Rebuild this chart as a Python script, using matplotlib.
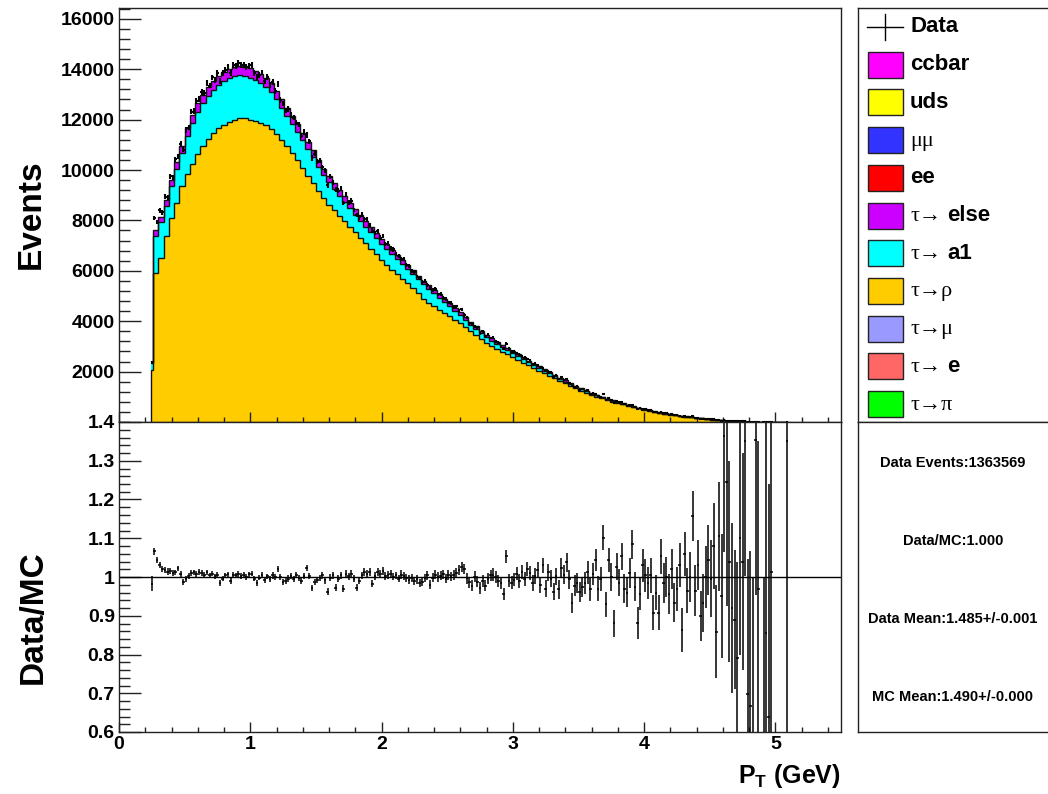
import numpy as np
import matplotlib
matplotlib.use('Agg')
import matplotlib.pyplot as plt
from matplotlib.patches import Rectangle
from matplotlib.ticker import MultipleLocator, FixedLocator, FuncFormatter

plt.rcParams['font.family'] = ['Liberation Sans', 'DejaVu Sans']
plt.rcParams['font.weight'] = 'bold'
plt.rcParams['mathtext.fontset'] = 'custom'
plt.rcParams['mathtext.rm'] = 'Liberation Sans:bold'
plt.rcParams['mathtext.bf'] = 'Liberation Sans:bold'

# --- stack, bins: first [0.24,0.26], then 0.04 wide up to 5.10 (centres 0.28 ... 5.08)
mc_total = [2400,
            7600, 8150, 8800, 9600, 10300, 10950, 11650, 12200, 12650, 12980,
            13300, 13550, 13750, 13900, 14000, 14080, 14120, 14100, 14030, 13920,
            13800, 13650, 13450, 13150, 12800, 12480, 12150, 11820, 11480, 11120,
            10780, 10400, 10060, 9760, 9480, 9220, 8960, 8700, 8450, 8200,
            7960, 7730, 7490, 7260, 7050, 6840, 6630, 6440, 6240, 6020,
            5810, 5610, 5420, 5240, 5060, 4900, 4720, 4540, 4350, 4160,
            3970, 3800, 3630, 3470, 3320, 3180, 3050, 2950, 2830, 2700,
            2570, 2440, 2320, 2210, 2090, 1980, 1870, 1760, 1650, 1540,
            1440, 1340, 1250, 1160, 1080, 1000, 930, 860, 800, 740,
            680, 620, 570, 520, 470, 425, 385, 345, 310, 278,
            248, 220, 192, 168, 145, 122, 100, 80, 62, 47,
            36, 27, 20, 14, 10, 7, 5, 3, 2, 1,
            1]
tau_rho = [2050,
           5900, 6500, 7400, 8100, 8700, 9350, 9850, 10250, 10650, 10950,
           11250, 11450, 11650, 11800, 11900, 12000, 12060, 12050, 11980, 11930,
           11850, 11780, 11620, 11420, 11200, 10950, 10680, 10400, 10100, 9780,
           9480, 9170, 8880, 8630, 8400, 8180, 7960, 7740, 7530, 7320,
           7100, 6880, 6660, 6420, 6230, 6050, 5870, 5690, 5500, 5300,
           5100, 4900, 4740, 4590, 4450, 4330, 4190, 4050, 3920, 3770,
           3600, 3440, 3290, 3150, 3020, 2900, 2790, 2690, 2590, 2475,
           2360, 2245, 2135, 2035, 1930, 1830, 1730, 1630, 1530, 1430,
           1340, 1250, 1165, 1085, 1010, 940, 875, 810, 755, 700,
           645, 590, 542, 495, 448, 405, 367, 330, 296, 265,
           237, 210, 184, 161, 139, 117, 96, 77, 60, 45,
           35, 26, 19, 13, 9, 6, 4, 3, 2, 1,
           1]
tau_else = [60,
            200, 215, 230, 250, 270, 285, 300, 320, 330, 340,
            345, 355, 360, 362, 365, 367, 368, 367, 365, 362,
            359, 355, 350, 342, 333, 325, 316, 307, 298, 289,
            280, 270, 262, 254, 246, 240, 233, 226, 220, 213,
            207, 201, 195, 189, 183, 178, 172, 167, 162, 156,
            151, 146, 141, 136, 132, 127, 123, 118, 113, 108,
            103, 99, 94, 90, 86, 83, 79, 77, 74, 70,
            67, 63, 60, 57, 54, 51, 49, 46, 43, 40,
            37, 35, 32, 30, 28, 26, 24, 22, 21, 19,
            18, 16, 15, 14, 12, 11, 10, 9, 8, 7,
            6, 6, 5, 4, 4, 3, 3, 2, 2, 1,
            1, 1, 0, 0, 0, 0, 0, 0, 0, 0,
            0]

# --- data / MC, 0.02 wide bins, centres 0.25 ... 5.09
nan = np.nan
ratio = [0.983, 1.066, 1.044, 1.030, 1.021, 1.018, 1.014, 1.016, 1.010, 1.012,
         1.022, 1.008, 0.987, 0.995, 1.003, 1.010, 1.012, 1.008, 1.013, 1.010,
         1.006, 1.012, 1.004, 1.009, 1.002, 1.006, 0.984, 0.996, 1.004, 1.007,
         0.990, 1.005, 1.004, 1.008, 1.003, 1.006, 1.000, 1.007, 1.009, 0.996,
         0.984, 0.998, 1.005, 0.992, 1.002, 0.994, 1.004, 1.000, 1.021, 0.999,
         0.987, 0.990, 0.996, 1.003, 0.994, 1.005, 0.998, 0.990, 1.003, 1.024,
         1.002, 0.972, 0.988, 0.993, 0.997, 1.004, 0.991, 0.962, 0.998, 1.004,
         0.972, 0.995, 1.005, 0.970, 1.008, 1.002, 1.009, 0.995, 0.972, 0.990,
         1.004, 1.013, 1.009, 1.012, 0.983, 1.003, 1.012, 1.008, 1.016, 1.002,
         1.005, 1.009, 1.001, 1.004, 0.996, 1.006, 1.002, 0.998, 0.993, 0.997,
         0.990, 0.994, 0.985, 0.988, 0.997, 1.004, 0.980, 0.998, 1.006, 1.000,
         1.003, 1.007, 0.996, 1.005, 1.002, 1.006, 1.010, 1.018, 1.027, 1.020,
         0.997, 0.986, 0.978, 1.001, 0.988, 0.972, 0.990, 0.978, 0.996, 1.004,
         1.006, 1.000, 0.990, 0.985, 0.956, 1.053, 0.990, 0.985, 0.993, 1.008,
         0.990, 1.013, 0.996, 1.021, 1.010, 0.984, 1.002, 1.018, 0.980, 1.030,
         0.970, 1.012, 0.995, 0.962, 1.002, 0.968, 1.024, 1.006, 1.038, 0.994,
         0.934, 0.978, 0.985, 0.962, 0.975, 0.984, 1.012, 0.968, 1.008, 1.044,
         0.970, 0.995, 1.101, 0.930, 1.044, 1.000, 0.881, 1.026, 0.985, 1.053,
         0.970, 0.960, 1.010, 1.084, 0.975, 0.881, 0.956, 1.030, 1.004, 0.985,
         1.004, 0.908, 0.960, 0.908, 1.053, 0.985, 1.000, 0.956, 1.020, 0.934,
         0.970, 1.031, 0.864, 1.060, 0.965, 1.000, 1.158, 0.965, 1.031, 0.900,
         0.934, 1.000, 1.044, 0.996, 1.080, 0.859, 1.105, 0.950, 1.365, 1.246,
         1.040, 0.920, 0.890, 0.790, 1.100, 1.040, 1.352, 0.697, 0.667, 0.550,
         1.353, 0.970, nan, 0.500, 0.855, 0.640, 1.013, nan, nan, nan,
         nan, nan, 1.352]
ratio_err = [0.020, 0.009, 0.008, 0.008, 0.008, 0.008, 0.008, 0.007, 0.007, 0.007,
             0.007, 0.007, 0.007, 0.007, 0.007, 0.007, 0.007, 0.007, 0.007, 0.007,
             0.007, 0.007, 0.007, 0.007, 0.007, 0.007, 0.007, 0.007, 0.007, 0.007,
             0.007, 0.007, 0.007, 0.007, 0.007, 0.007, 0.007, 0.007, 0.007, 0.007,
             0.007, 0.007, 0.007, 0.007, 0.007, 0.008, 0.008, 0.008, 0.008, 0.008,
             0.008, 0.008, 0.008, 0.008, 0.008, 0.008, 0.008, 0.008, 0.008, 0.008,
             0.008, 0.008, 0.008, 0.008, 0.008, 0.009, 0.009, 0.009, 0.009, 0.009,
             0.009, 0.009, 0.009, 0.009, 0.009, 0.009, 0.009, 0.009, 0.009, 0.009,
             0.010, 0.010, 0.010, 0.010, 0.010, 0.010, 0.010, 0.010, 0.010, 0.010,
             0.010, 0.010, 0.010, 0.010, 0.010, 0.011, 0.011, 0.011, 0.011, 0.011,
             0.011, 0.011, 0.011, 0.011, 0.011, 0.012, 0.012, 0.012, 0.012, 0.012,
             0.012, 0.012, 0.012, 0.012, 0.012, 0.013, 0.013, 0.013, 0.013, 0.013,
             0.014, 0.014, 0.014, 0.014, 0.014, 0.015, 0.015, 0.015, 0.015, 0.015,
             0.016, 0.016, 0.016, 0.016, 0.016, 0.017, 0.017, 0.017, 0.017, 0.017,
             0.018, 0.018, 0.018, 0.018, 0.018, 0.020, 0.020, 0.020, 0.020, 0.020,
             0.022, 0.022, 0.022, 0.022, 0.022, 0.024, 0.024, 0.024, 0.024, 0.024,
             0.026, 0.026, 0.026, 0.026, 0.026, 0.029, 0.029, 0.029, 0.029, 0.029,
             0.032, 0.032, 0.032, 0.032, 0.032, 0.035, 0.035, 0.035, 0.035, 0.035,
             0.038, 0.038, 0.038, 0.038, 0.038, 0.042, 0.042, 0.042, 0.042, 0.042,
             0.046, 0.046, 0.046, 0.046, 0.046, 0.051, 0.051, 0.051, 0.051, 0.051,
             0.057, 0.057, 0.057, 0.057, 0.057, 0.065, 0.065, 0.065, 0.065, 0.065,
             0.075, 0.080, 0.090, 0.100, 0.110, 0.120, 0.140, 0.160, 0.300, 0.320,
             0.260, 0.220, 0.180, 0.250, 0.300, 0.280, 0.350, 0.350, 0.400, 0.450,
             0.400, 0.380, nan, 0.500, 0.550, 0.600, 0.600, nan, nan, nan,
             nan, nan, 1.200]

legend_parts = [[('Data', 'b')], [('ccbar', 'b')], [('uds', 'b')], [('μμ', 's')],
                [('ee', 'b')], [('τ→', 's'), ('else', 'b')], [('τ→', 's'), ('a1', 'b')],
                [('τ→ρ', 's')], [('τ→μ', 's')], [('τ→', 's'), ('e', 'b')], [('τ→π', 's')]]
legend_colors = [None, '#FF00FF', '#FFFF00', '#3333FF', '#FF0000', '#CC00FF',
                 '#00FFFF', '#FFCC00', '#9999FF', '#FF6666', '#00FF00']
stats_lines = ['Data Events:1363569', 'Data/MC:1.000',
               'Data Mean:1.485+/-0.001', 'MC Mean:1.490+/-0.000']

# ------------------------------------------------------------------
mc_total = np.array(mc_total, float)
tau_rho = np.array(tau_rho, float)
tau_else = np.array(tau_else, float)
tau_a1 = mc_total - tau_rho - tau_else
edges = np.r_[0.24, np.round(0.26 + 0.04 * np.arange(len(mc_total)), 2)]

ratio = np.array(ratio)
ratio_err = np.array(ratio_err)
xr = np.round(0.25 + 0.02 * np.arange(len(ratio)), 2)
jbin = (np.arange(len(ratio)) + 1) // 2
ok = ~np.isnan(ratio)
data_up = mc_total[jbin] * ratio

W, H = 1048, 794
fig = plt.figure(figsize=(W / 100, H / 100), dpi=100)

def box(l, t, r, b):
    return [l / W, 1 - b / H, (r - l) / W, (b - t) / H]

ax_top = fig.add_axes(box(119, 8, 841, 422))
ax_bot = fig.add_axes(box(119, 422, 841, 732))
ax_leg = fig.add_axes(box(858, 8, 1078, 422))
ax_sta = fig.add_axes(box(858, 422, 1078, 732))

# upper: stack
c_rho, c_a1, c_else = '#FFCC00', '#00FFFF', '#CC00FF'
ax_top.stairs(tau_rho, edges, baseline=0, fill=True, color=c_rho)
ax_top.stairs(tau_rho + tau_a1, edges, baseline=tau_rho, fill=True, color=c_a1)
ax_top.stairs(mc_total, edges, baseline=tau_rho + tau_a1, fill=True, color=c_else)
ax_top.stairs(tau_rho, edges, baseline=0, color='#111111', lw=1)
ax_top.stairs(tau_rho + tau_a1, edges, baseline=None, color='#111111', lw=1)
ax_top.stairs(mc_total, edges, baseline=None, color='#111111', lw=1)
ax_top.errorbar(xr[ok], data_up[ok], yerr=np.sqrt(data_up[ok]), xerr=0.01,
                fmt='none', ecolor='black', elinewidth=1.5, capsize=0)
ax_top.set_xlim(0, 5.5)
ax_top.set_ylim(0, 16430)
ax_top.yaxis.set_major_locator(FixedLocator(np.arange(2000, 16001, 2000)))
ax_top.yaxis.set_minor_locator(MultipleLocator(400))
ax_top.xaxis.set_major_locator(MultipleLocator(1))
ax_top.xaxis.set_minor_locator(MultipleLocator(0.2))
ax_top.tick_params(axis='x', labelbottom=False)

# lower: ratio
ax_bot.axhline(1.0, color='black', lw=1)
ax_bot.errorbar(xr[ok], ratio[ok], yerr=ratio_err[ok], xerr=0.01,
                fmt='none', ecolor='black', elinewidth=1.1, capsize=0)
ax_bot.set_xlim(0, 5.5)
ax_bot.set_ylim(0.6, 1.4)
ax_bot.yaxis.set_major_locator(MultipleLocator(0.1))
ax_bot.yaxis.set_minor_locator(MultipleLocator(0.02))
ax_bot.yaxis.set_major_formatter(FuncFormatter(lambda v, p: f'{v:g}'))
ax_bot.xaxis.set_major_locator(MultipleLocator(1))
ax_bot.xaxis.set_minor_locator(MultipleLocator(0.2))
ax_bot.xaxis.set_major_formatter(FuncFormatter(lambda v, p: f'{v:g}'))

for ax in (ax_top, ax_bot):
    ax.tick_params(which='both', direction='in', top=False, right=False,
                   labelsize=14, width=1, color='#222222')
    ax.tick_params(axis='y', which='major', length=16, pad=3)
    ax.tick_params(axis='y', which='minor', length=8)
    ax.tick_params(axis='x', which='major', length=7, pad=3)
    ax.tick_params(axis='x', which='minor', length=3.5)
    for s in ax.spines.values():
        s.set_linewidth(1)
        s.set_color('#222222')
    for lab in ax.get_xticklabels() + ax.get_yticklabels():
        lab.set_fontweight('bold')

fig.text(31 / W, 1 - 214 / H, 'Events', rotation=90, fontsize=24,
         fontweight='bold', ha='center', va='center')
fig.text(33 / W, 1 - 617 / H, 'Data/MC', rotation=90, fontsize=24,
         fontweight='bold', ha='center', va='center')
fig.text(841 / W, 1 - 776 / H, r'P$_\mathrm{T}$ (GeV)', fontsize=18,
         fontweight='bold', ha='right', va='center')

# legend panel (pixel coordinates)
for ax in (ax_leg, ax_sta):
    ax.set_xticks([])
    ax.set_yticks([])
    for s in ax.spines.values():
        s.set_linewidth(1)
        s.set_color('#222222')
ax_leg.set_xlim(858, 1078)
ax_leg.set_ylim(422, 8)
ax_sta.set_xlim(858, 1078)
ax_sta.set_ylim(732, 422)

renderer = fig.canvas.get_renderer()
for i, (parts, col) in enumerate(zip(legend_parts, legend_colors)):
    yc = 27 + 37.7 * i
    if col is None:
        ax_leg.plot([867, 903], [yc, yc], color='black', lw=1)
        ax_leg.plot([885, 885], [yc - 13, yc + 13], color='black', lw=1)
    else:
        ax_leg.add_patch(Rectangle((868, yc - 13), 35, 26, facecolor=col,
                                   edgecolor='#222222', lw=1))
    x = 910
    for txt, kind in parts:
        if kind == 'b':
            t = ax_leg.text(x, yc, txt, fontsize=16, fontweight='bold',
                            family=['Liberation Sans', 'DejaVu Sans'],
                            ha='left', va='center')
        else:
            t = ax_leg.text(x, yc + 1, txt, fontsize=16, fontweight='normal',
                            family=['Liberation Serif', 'DejaVu Serif'],
                            ha='left', va='center')
        x += t.get_window_extent(renderer=renderer).width + 6

for i, line in enumerate(stats_lines):
    ax_sta.text(953, 463 + 78 * i, line, fontsize=10.5, fontweight='bold',
                ha='center', va='center')

fig.savefig('out.png', dpi=100)
